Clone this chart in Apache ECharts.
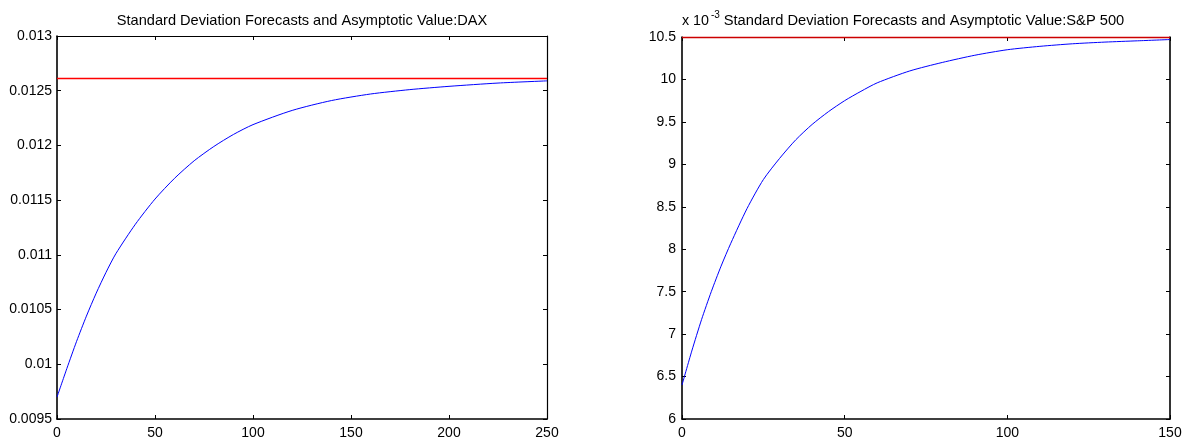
<!DOCTYPE html>
<html>
<head>
<meta charset="utf-8">
<script src="https://cdn.jsdelivr.net/npm/echarts@6/dist/echarts.min.js"></script>
<style>
  html, body { margin: 0; padding: 0; background: #fff; }
  #chart { width: 1185px; height: 440px; }
</style>
</head>
<body>
<div id="chart"></div>
<script>
// DAX: forecast horizon (days) and forecast standard deviation
const daxSteps = [0, 5, 10, 15, 20, 25, 30, 40, 50, 60, 70, 80, 90, 100, 120, 140, 160, 180, 200, 225, 250];
const daxStd = [0.00970, 0.00996, 0.01021, 0.01044, 0.01065, 0.01084, 0.01101, 0.01128, 0.01151, 0.01170,
                0.01186, 0.01199, 0.01210, 0.01219, 0.01232, 0.01241, 0.01247, 0.01251, 0.01254, 0.01257, 0.01259];
const daxAsymptote = 0.01261;

// S&P 500: forecast horizon (days) and forecast standard deviation, in units of 1e-3
const spSteps = [0, 3, 6, 9, 12, 15, 20, 25, 30, 35, 40, 45, 50, 55, 60, 70, 80, 90, 100, 110, 120, 130, 140, 150];
const spStdE3 = [6.40, 6.80, 7.17, 7.50, 7.80, 8.07, 8.48, 8.82, 9.07, 9.29, 9.47, 9.62, 9.75, 9.86, 9.96,
                 10.10, 10.20, 10.285, 10.35, 10.39, 10.42, 10.44, 10.455, 10.47];
const spAsymptoteE3 = 10.5;

// titles and axis ranges
const daxTitle = 'Standard Deviation Forecasts and Asymptotic Value:DAX';
const spTitle = 'Standard Deviation Forecasts and Asymptotic Value:S&P 500';
const daxX = { min: 0, max: 250, interval: 50 };
const daxY = { min: 0.0095, max: 0.013, interval: 0.0005 };
const spX = { min: 0, max: 150, interval: 50 };
const spY = { min: 6, max: 10.5, interval: 0.5 };

const FONT = "'Liberation Sans', Arial, Helvetica, sans-serif";
const pair = (xs, ys) => xs.map((x, i) => [x, ys[i]]);
const fmt = v => String(Number(v.toFixed(6)));

function xAxisDef(grid, range, pos, showLabels, lineW) {
  return {
    type: 'value', gridIndex: grid, position: pos,
    min: range.min, max: range.max, interval: range.interval,
    axisLine: { show: true, onZero: false, lineStyle: { color: '#000', width: lineW } },
    axisTick: { show: true, inside: true, length: 4, lineStyle: { color: '#000', width: 1 } },
    axisLabel: { show: showLabels, color: '#000', fontFamily: FONT, fontSize: 14, margin: 7, formatter: fmt },
    splitLine: { show: false }
  };
}
function yAxisDef(grid, range, pos, showLabels, lineW, margin) {
  return {
    type: 'value', gridIndex: grid, position: pos,
    min: range.min, max: range.max, interval: range.interval,
    axisLine: { show: true, onZero: false, lineStyle: { color: '#000', width: lineW } },
    axisTick: { show: true, inside: true, length: 4, lineStyle: { color: '#000', width: 1 } },
    axisLabel: { show: showLabels, color: '#000', fontFamily: FONT, fontSize: 14, margin: margin, formatter: fmt },
    splitLine: { show: false }
  };
}

const chart = echarts.init(document.getElementById('chart'), null, { renderer: 'canvas' });
chart.setOption({
  backgroundColor: '#fff',
  animation: false,
  grid: [
    { left: 57, right: 1185 - 547, top: 36, bottom: 440 - 421 },
    { left: 682, right: 1185 - 1170, top: 37, bottom: 440 - 420 }
  ],
  xAxis: [
    xAxisDef(0, daxX, 'bottom', true, 1.6),
    xAxisDef(0, daxX, 'top', false, 1.2),
    xAxisDef(1, spX, 'bottom', true, 1.6),
    xAxisDef(1, spX, 'top', false, 1.2)
  ],
  yAxis: [
    yAxisDef(0, daxY, 'left', true, 1.6, 5),
    yAxisDef(0, daxY, 'right', false, 1.2, 5),
    yAxisDef(1, spY, 'left', true, 1.6, 6),
    yAxisDef(1, spY, 'right', false, 1.6, 6)
  ],
  graphic: [
    { type: 'text', x: 302, y: 21, style: { text: daxTitle, fill: '#000', font: '14.6px ' + FONT, align: 'center', verticalAlign: 'middle' } },
    { type: 'text', x: 924, y: 21, style: { text: spTitle, fill: '#000', font: '14.7px ' + FONT, align: 'center', verticalAlign: 'middle' } },
    { type: 'text', x: 682, y: 21, style: { text: 'x 10', fill: '#000', font: '14.3px ' + FONT, align: 'left', verticalAlign: 'middle' } },
    { type: 'text', x: 711, y: 15, style: { text: '-3', fill: '#000', font: '10px ' + FONT, align: 'left', verticalAlign: 'middle' } }
  ],
  series: [
    {
      type: 'line', xAxisIndex: 0, yAxisIndex: 0,
      data: pair(daxSteps, daxStd), showSymbol: false, smooth: 0.25,
      lineStyle: { color: '#0000ff', width: 1 },
      markLine: {
        silent: true, symbol: 'none', label: { show: false }, precision: 6,
        lineStyle: { color: '#ff0000', width: 1.3, type: 'solid' },
        data: [{ yAxis: daxAsymptote }]
      }
    },
    {
      type: 'line', xAxisIndex: 2, yAxisIndex: 2,
      data: pair(spSteps, spStdE3), showSymbol: false, smooth: 0.25,
      lineStyle: { color: '#0000ff', width: 1 },
      markLine: {
        silent: true, symbol: 'none', label: { show: false }, precision: 6,
        lineStyle: { color: '#cc0000', width: 1.3, type: 'solid' },
        data: [{ yAxis: spAsymptoteE3 }]
      }
    }
  ]
});
</script>
</body>
</html>
